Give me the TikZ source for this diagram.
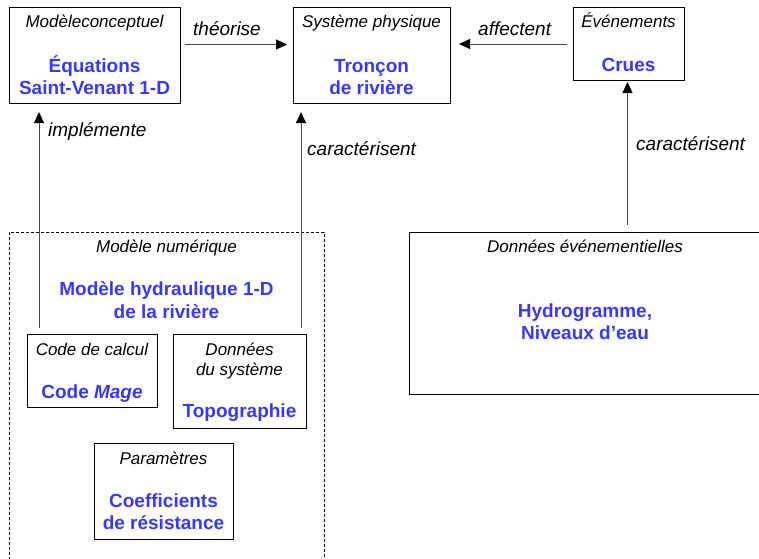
\documentclass[tikz,border=0pt]{standalone}
\usepackage{fontspec}
\setmainfont{Liberation Sans}
\usetikzlibrary{arrows.meta}
\definecolor{bluetxt}{RGB}{56,56,255}
\begin{document}
\begin{tikzpicture}[x=1pt,y=-1pt,
  box/.style={draw=black, line width=1pt, inner sep=0pt, anchor=north west},
  groupbox/.style={box, line width=0.8pt, dash pattern=on 3pt off 2pt},
  hdr/.style={font=\fontsize{17}{20}\selectfont\itshape, anchor=base, inner sep=0pt},
  lbl/.style={font=\fontsize{19}{22}\selectfont\itshape, anchor=base west, inner sep=0pt},
  val/.style={font=\fontsize{19}{22}\selectfont\bfseries, text=bluetxt, anchor=base, inner sep=0pt},
  conn/.style={draw=black!70, line width=1pt, -{Triangle[length=11pt,width=10pt,color=black]}},
]
\useasboundingbox (0,0) rectangle (759,558);
\clip (0,0) rectangle (759,558);

% Top row: conceptual model, physical system, events
\node[box, minimum width=171pt, minimum height=96pt] (A) at (9,7) {};
\node[hdr] (Ah) at (94.5,27) {Modèleconceptuel};
\node[val] (Av1) at (94.5,72) {Équations};
\node[val] (Av2) at (94.5,94) {Saint-Venant 1-D};

\node[box, minimum width=157pt, minimum height=96pt] (B) at (293,7) {};
\node[hdr] (Bh) at (371.5,27) {Système physique};
\node[val] (Bv1) at (371.5,72) {Tronçon};
\node[val] (Bv2) at (371.5,94) {de rivière};

\node[box, minimum width=111pt, minimum height=73pt] (C) at (573,7) {};
\node[hdr] (Ch) at (628.5,27) {Événements};
\node[val] (Cv) at (628.5,71) {Crues};

% Numerical model group
\node[groupbox, minimum width=315pt, minimum height=360pt] (N) at (9,232) {};
\node[hdr] (Nh) at (166.5,252) {Modèle numérique};
\node[val] (Nv1) at (166.5,295) {Modèle hydraulique 1-D};
\node[val] (Nv2) at (166.5,318) {de la rivière};

\node[box, minimum width=130pt, minimum height=73pt] (CC) at (27,334) {};
\node[hdr] (CCh) at (92,355) {Code de calcul};
\node[val] (CCv) at (92,398) {Code \textit{Mage}};

\node[box, minimum width=133pt, minimum height=94pt] (DS) at (173,334) {};
\node[hdr] (DSh1) at (239.5,355) {Données};
\node[hdr] (DSh2) at (239.5,375) {du système};
\node[val] (DSv) at (239.5,417) {Topographie};

\node[box, minimum width=139pt, minimum height=96pt] (P) at (94,443) {};
\node[hdr] (Ph) at (163.5,464) {Paramètres};
\node[val] (Pv1) at (163.5,507) {Coefficients};
\node[val] (Pv2) at (163.5,529) {de résistance};

% Event data
\node[box, minimum width=352pt, minimum height=162pt] (DE) at (409,232) {};
\node[hdr] (DEh) at (585,252) {Données événementielles};
\node[val] (DEv1) at (585,317) {Hydrogramme,};
\node[val] (DEv2) at (585,339) {Niveaux d’eau};

% Horizontal connectors
\draw[conn] ([xshift=4pt,yshift=11pt]A.east) -- ([xshift=-6pt,yshift=11pt]B.west);
\node[lbl] (lt) at (193,35) {théorise};
\coordinate (Bin) at ([xshift=8pt]B.east);
\draw[conn] ([xshift=-6pt]C.west) -- (Bin |- C.west);
\node[lbl] (la) at (478,35) {affectent};

% Vertical connectors
\coordinate (impS) at ([xshift=12pt,yshift=6pt]CC.north west);
\coordinate (impE) at (impS |- A.south);
\draw[conn] (impS) -- ([yshift=-8pt]impE);
\node[lbl] (li) at (48,136) {implémente};

\coordinate (carS) at ([xshift=-6pt,yshift=6pt]DS.north east);
\coordinate (carE) at (carS |- B.south);
\draw[conn] (carS) -- ([yshift=-8pt]carE);
\node[lbl] (lc1) at (307,155) {caractérisent};

\coordinate (crB) at ([xshift=-1.5pt]C.south);
\coordinate (crT) at (crB |- DE.north);
\draw[conn] ([yshift=7pt]crT) -- ([yshift=-1pt]crB);
\node[lbl] (lc2) at (636,150) {caractérisent};
\end{tikzpicture}
\end{document}
